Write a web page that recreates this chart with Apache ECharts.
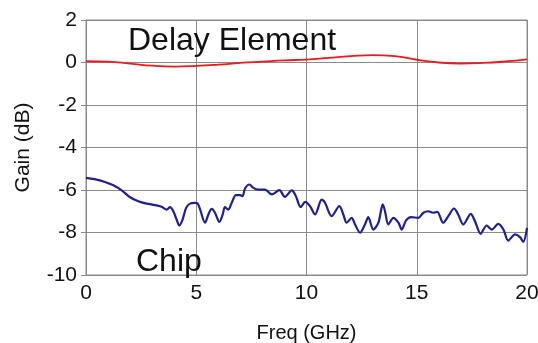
<!DOCTYPE html>
<html>
<head>
<meta charset="utf-8">
<script src="https://cdn.jsdelivr.net/npm/echarts@6/dist/echarts.min.js"></script>
<style>
  html, body { margin: 0; padding: 0; background: #fff; }
  #main { width: 538px; height: 343px; }
</style>
</head>
<body>
<div id="main"></div>
<script>
// Delay Element (red)
var delayFreq = [0, 1, 2, 3, 4, 5, 6, 7, 8, 9, 10, 11, 12, 13, 14, 15, 16, 17, 18, 19, 20];
var delayGain = [0.06, 0.04, -0.05, -0.15, -0.19, -0.16, -0.1, -0.02, 0.04, 0.1, 0.14, 0.22, 0.3, 0.35, 0.3, 0.13, 0.0, -0.05, -0.02, 0.05, 0.15];

// Chip (blue)
var chipFreq = [0.0, 0.48, 0.86, 1.24, 1.62, 2.0, 2.37, 2.75, 3.13, 3.43, 3.66, 3.81, 3.96, 4.11, 4.23, 4.38, 4.54, 4.72, 4.94,
  5.05, 5.17, 5.4, 5.55, 5.7, 5.85, 6.05, 6.2, 6.3, 6.45, 6.61, 6.8, 6.98, 7.1, 7.21, 7.41, 7.59, 7.82, 8.12, 8.42, 8.77,
  9.02, 9.33, 9.52, 9.73, 9.95, 10.16, 10.39, 10.69, 10.84, 11.14, 11.49, 11.67, 11.82, 12.05, 12.2, 12.43, 12.65, 12.8,
  13.03, 13.26, 13.46, 13.56, 13.71, 13.94, 14.17, 14.32, 14.51, 14.74, 15.07, 15.3, 15.52, 15.75, 15.93, 16.2, 16.43,
  16.69, 16.88, 17.11, 17.45, 17.64, 17.9, 18.17, 18.4, 18.7, 18.93, 19.15, 19.46, 19.68, 19.83, 20.0];
var chipGain = [-5.43, -5.51, -5.62, -5.78, -6.02, -6.34, -6.53, -6.64, -6.71, -6.79, -6.92, -6.81, -7.0, -7.39, -7.67, -7.39, -6.84, -6.64, -6.61,
  -6.62, -6.9, -7.54, -7.15, -6.89, -7.07, -7.5, -7.15, -6.81, -6.92, -6.6, -6.24, -6.24, -6.29, -5.93, -5.74, -5.9, -5.98, -5.98, -6.21, -6.01,
  -6.32, -6.02, -6.29, -6.8, -6.56, -6.76, -7.15, -6.45, -6.6, -7.23, -6.76, -7.15, -7.54, -7.31, -7.62, -8.01, -7.62, -7.28,
  -7.86, -7.54, -6.68, -7.0, -7.62, -7.31, -7.54, -7.86, -7.44, -7.28, -7.31, -7.07, -7.0, -7.07, -7.03, -7.54, -7.23,
  -6.87, -7.15, -7.62, -7.12, -7.47, -8.06, -7.67, -7.86, -7.59, -7.86, -8.38, -8.09, -8.22, -8.44, -7.78];

var xTicks = [0, 5, 10, 15, 20];
var yTicks = [-10, -8, -6, -4, -2, 0, 2];

function pairs(xs, ys) {
  return xs.map(function (x, i) { return [x, ys[i]]; });
}

var font = 'Liberation Sans, Arial, sans-serif';
var gridColor = '#8a8a8a';

var chart = echarts.init(document.getElementById('main'));
chart.setOption({
  animation: false,
  backgroundColor: '#fff',
  grid: {
    left: 86, right: 11, top: 20, bottom: 68,
    containLabel: false, outerBoundsMode: 'none',
    show: true, borderColor: gridColor, borderWidth: 1
  },
  xAxis: {
    type: 'value',
    min: xTicks[0], max: xTicks[xTicks.length - 1], interval: 5,
    name: 'Freq (GHz)', nameLocation: 'middle', nameGap: 48,
    nameTextStyle: { fontFamily: font, fontSize: 20, color: '#111' },
    axisLine: { lineStyle: { color: gridColor } },
    axisTick: { show: true, length: 5, lineStyle: { color: gridColor } },
    axisLabel: { fontFamily: font, fontSize: 21, color: '#111', margin: 8 },
    splitLine: { show: true, lineStyle: { color: gridColor, width: 1 } }
  },
  yAxis: {
    type: 'value',
    min: yTicks[0], max: yTicks[yTicks.length - 1], interval: 2,
    name: 'Gain (dB)', nameLocation: 'middle', nameGap: 52,
    nameTextStyle: { fontFamily: font, fontSize: 21, color: '#111' },
    axisLine: { show: true, lineStyle: { color: gridColor } },
    axisTick: { show: true, length: 5, lineStyle: { color: gridColor } },
    axisLabel: { fontFamily: font, fontSize: 21, color: '#111', margin: 9 },
    splitLine: { show: true, lineStyle: { color: gridColor, width: 1 } }
  },
  graphic: [
    { type: 'text', left: 128, top: 25, style: { text: 'Delay Element', fontFamily: font, fontSize: 32, fill: '#111' }, z: 10 },
    { type: 'text', left: 136, top: 246, style: { text: 'Chip', fontFamily: font, fontSize: 32, fill: '#111' }, z: 10 }
  ],
  series: [
    {
      name: 'Delay Element', type: 'line', data: pairs(delayFreq, delayGain),
      smooth: 0.5, showSymbol: false,
      lineStyle: { color: '#f01818', width: 1.8 }
    },
    {
      name: 'Chip', type: 'line', data: pairs(chipFreq, chipGain),
      smooth: 0.3, showSymbol: false,
      lineStyle: { color: '#1c2090', width: 2.2 }
    }
  ]
});
</script>
</body>
</html>
